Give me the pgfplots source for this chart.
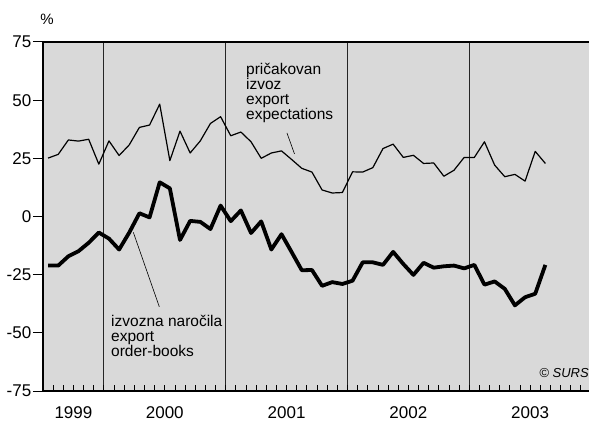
\documentclass[border=0pt]{standalone}
\usepackage{fontspec}
\setmainfont{Liberation Sans}
\usepackage{pgfplots}
\pgfplotsset{compat=1.18}
\definecolor{panel}{RGB}{217,217,217}

% months counted from July 1999; each value sits in the middle of its month
\pgfplotstableread{
m     val
0.5   25.1
1.5   26.7
2.5   32.9
3.5   32.4
4.5   33.2
5.5   22.5
6.5   32.5
7.5   26.2
8.5   30.8
9.5   38.3
10.5  39.3
11.5  48.3
12.5  24.0
13.5  36.7
14.5  27.3
15.5  32.5
16.5  40.0
17.5  42.9
18.5  34.7
19.5  36.3
20.5  32.1
21.5  25.0
22.5  27.3
23.5  28.2
24.5  24.5
25.5  20.7
26.5  19.1
27.5  11.4
28.5  10.1
29.5  10.3
30.5  19.2
31.5  19.1
32.5  21.0
33.5  29.2
34.5  31.1
35.5  25.4
36.5  26.3
37.5  22.8
38.5  23.0
39.5  17.3
40.5  19.9
41.5  25.4
42.5  25.4
43.5  32.1
44.5  22.1
45.5  17.1
46.5  18.1
47.5  15.2
48.5  28.0
49.5  22.8
}\expectations

\pgfplotstableread{
m     val
0.5   -21.1
1.5   -21.1
2.5   -17.1
3.5   -14.9
4.5   -11.3
5.5   -6.9
6.5   -9.5
7.5   -14.2
8.5   -6.9
9.5   1.4
10.5  -0.4
11.5  14.7
12.5  12.1
13.5  -10.1
14.5  -1.9
15.5  -2.3
16.5  -5.4
17.5  4.7
18.5  -2.0
19.5  2.6
20.5  -7.1
21.5  -2.1
22.5  -14.2
23.5  -7.6
24.5  -15.3
25.5  -23.1
26.5  -23.0
27.5  -29.8
28.5  -28.2
29.5  -29.0
30.5  -27.6
31.5  -19.7
32.5  -19.7
33.5  -20.8
34.5  -15.2
35.5  -20.4
36.5  -25.1
37.5  -19.9
38.5  -22.0
39.5  -21.4
40.5  -21.1
41.5  -22.3
42.5  -20.8
43.5  -29.3
44.5  -27.9
45.5  -31.1
46.5  -38.2
47.5  -34.7
48.5  -33.2
49.5  -20.8
}\orders

\begin{document}
\begin{tikzpicture}[x=1pt,y=1pt]
\begin{axis}[
    at={(0,0)}, anchor=south west,
    scale only axis,
    width=546pt, height=349pt,
    xmin=0, xmax=53.8,
    ymin=-75, ymax=75,
    axis lines*=left,
    axis line style={line width=1.4pt},
    axis background/.style={fill=panel},
    ytick={-75,-50,...,75},
    yticklabels={-75,-50,-25,0,25,50,75},
    tick align=outside,
    major tick length=10pt,
    ytick style={line width=1pt,black},
    xtick={3,12,24,36,48},
    xticklabels={1999,2000,2001,2002,2003},
    xtick style={draw=none},
    tick label style={font=\fontsize{17}{17}\selectfont},
    yticklabel style={anchor=east, inner sep=0pt, xshift=-1.5pt},
    xticklabel style={anchor=north, inner sep=0pt, yshift=-5.5pt},
  ]
% year dividers and month ticks
\pgfplotsinvokeforeach{6,18,30,42}{
  \draw[line width=0.8pt, black!85] (axis cs:#1,-75) -- (axis cs:#1,75);
}
\pgfplotsinvokeforeach{1,...,53}{
  \draw[line width=0.8pt] (axis cs:#1,-75) -- ++(0pt,6pt);
}
\draw[line width=1.4pt] (rel axis cs:0,1) -- (rel axis cs:1,1);

% PLOT: export expectations
\addplot[black, line width=1.2pt, line join=round] table[x=m, y=val] {\expectations};
% PLOT: export order-books
\addplot[black, line width=3.8pt, line join=round] table[x=m, y=val] {\orders};

% labels and pointers
\draw[line width=0.6pt] (axis cs:24.04,35.9) -- (axis cs:24.78,26.9);
\draw[line width=0.6pt] (axis cs:8.90,-6.8) -- (axis cs:11.46,-38.8);
\begin{scope}[every node/.style={anchor=base west, inner sep=0pt,
    font=\fontsize{15.5}{15}\selectfont}]
\node at (axis cs:20.0,60.9) {pričakovan};
\node at (axis cs:20.0,54.4) {izvoz};
\node at (axis cs:20.0,48.0) {export};
\node at (axis cs:20.0,41.6) {expectations};
\node at (axis cs:6.7,-47.1) {izvozna naročila};
\node at (axis cs:6.7,-53.6) {export};
\node at (axis cs:6.7,-60.2) {order-books};
\end{scope}
\end{axis}
\node[font=\fontsize{15}{15}\selectfont, inner sep=0pt] at (4,372) {\%};
\node[anchor=east, inner sep=0pt, font=\fontsize{13}{13}\itshape] at (546,18) {© SURS};
\pgfresetboundingbox
\path (-43,-32) rectangle (546,391);
\end{tikzpicture}
\end{document}
